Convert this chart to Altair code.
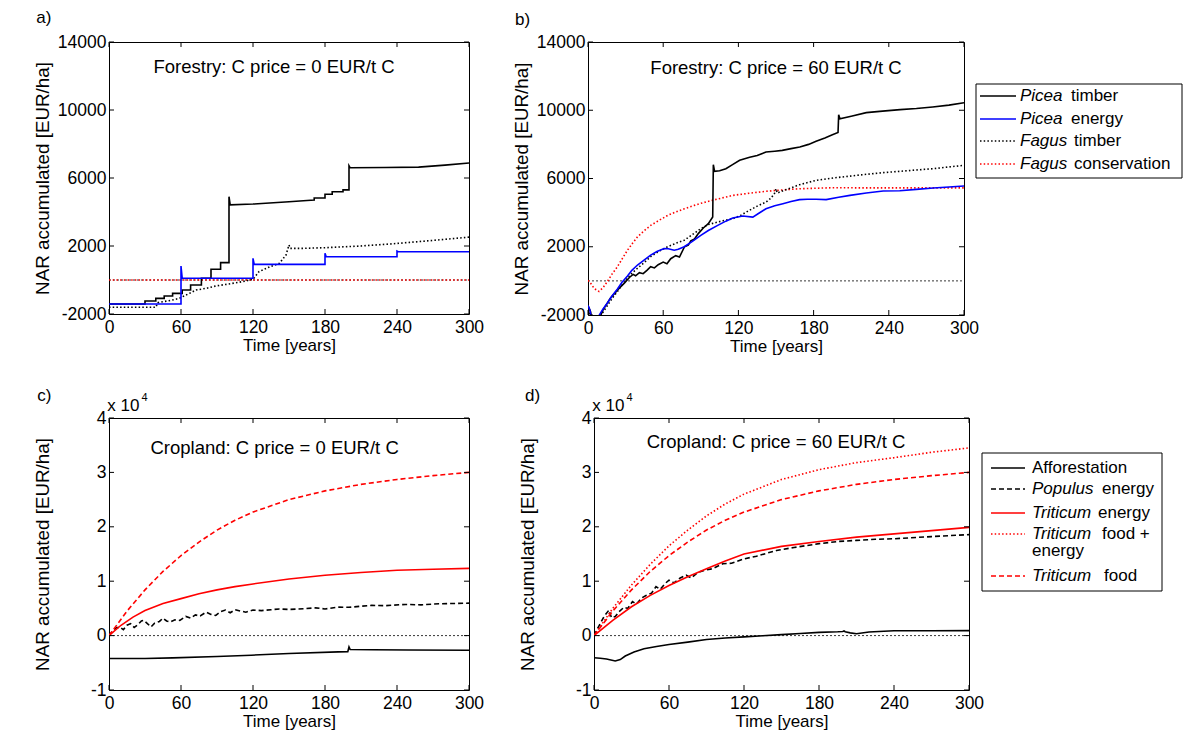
import altair as alt
import pandas as pd

FONT = "Liberation Sans"

# ---------------- data ----------------
X_TICKS = [0, 60, 120, 180, 240, 300]
Y_TICKS_FOREST = [-2000, 2000, 6000, 10000, 14000]
Y_TICKS_CROP = [-10000, 0, 10000, 20000, 30000, 40000]

# a) Forestry, C price = 0   (time [years], NAR [EUR/ha])
A_PICEA_TIMBER = [(0, -1410), (30, -1410), (30, -1235), (39, -1235), (39, -1080), (46, -1080),
                  (46, -940), (53, -940), (53, -785), (61, -785), (61, -590), (68, -590),
                  (68, -295), (77, -295), (77, 100), (85, 100), (85, 630), (93, 630),
                  (93, 1020), (100, 1020), (100, 4900), (101, 4420), (120, 4470), (150, 4600),
                  (165, 4680), (171, 4700), (171, 4820), (180, 4820), (180, 5040), (186, 5040),
                  (186, 5190), (195, 5190), (195, 5300), (200, 5300), (200, 6720), (201, 6600),
                  (230, 6620), (258, 6640), (280, 6760), (300, 6880)]
A_PICEA_ENERGY = [(0, -1410), (60, -1410), (60, 820), (61, 100), (120, 100), (120, 1275),
                  (121, 920), (180, 920), (180, 1570), (181, 1370), (240, 1370), (240, 1700),
                  (241, 1660), (300, 1660)]
A_FAGUS_TIMBER = [(0, -1605), (39, -1605), (40.6, -1330), (50, -1220), (58.6, -1080), (67, -785),
                  (72.5, -590), (81, -490), (89, -350), (100, -235), (111, -100), (120, 40),
                  (125, 490), (134, 780), (142, 980), (147.5, 1470), (150, 2060), (151, 1860),
                  (161, 1860), (180, 1900), (210, 2000), (240, 2150), (270, 2330), (300, 2520)]
A_FAGUS_CONS = [(0, 0), (300, 0)]

# b) Forestry, C price = 60
B_PICEA_TIMBER = [(0, -1450), (2, -1800), (4, -2600), (8, -2400), (12, -1700), (18, -1000),
                  (24, -500), (29, -135), (33, 200), (36, 380), (38, 300), (41, 480), (44, 420),
                  (47, 620), (50, 835), (53, 760), (56, 950), (60, 1100), (63, 1000), (66, 1300),
                  (70, 1480), (73, 1400), (77, 2000), (80, 2100), (82, 2350), (85, 2450),
                  (88, 2770), (92, 3100), (96, 3350), (99.5, 3740), (100, 6810),
                  (101, 6420), (105, 6450), (110, 6575), (115, 6800), (121, 7065), (129, 7240),
                  (135, 7350), (142, 7550), (149, 7600), (155, 7650), (162, 7750), (169, 7845),
                  (176, 8000), (182, 8180), (189, 8380), (195, 8570), (199.5, 8700), (200, 9740),
                  (201, 9500), (210, 9650), (222, 9860), (235, 9950), (249, 10035), (262, 10100),
                  (275, 10190), (288, 10300), (300, 10440)]
B_PICEA_ENERGY = [(0, -1450), (1.5, -1700), (3, -2300), (5, -2700), (7, -2400), (9, -2000),
                  (12, -1650), (15.5, -1300), (19, -900), (23.5, -480), (27, -100), (31.5, 290),
                  (35, 620), (39.5, 930), (45, 1230), (50, 1510), (55, 1720), (60.8, 1900),
                  (64, 1880), (68.8, 1800), (72, 1850), (76.8, 2000), (83, 2300), (90, 2670),
                  (96, 2950), (103.5, 3250), (110, 3500), (115.5, 3680), (123.5, 3800),
                  (131.5, 3740), (136, 3950), (142, 4230), (149, 4400), (155.5, 4520),
                  (162, 4650), (168.8, 4760), (175, 4780), (182, 4780), (190, 4760), (200, 4900),
                  (209, 5010), (222, 5150), (235.5, 5270), (248.8, 5280), (262, 5360),
                  (275.5, 5440), (288, 5500), (300, 5560)]
B_FAGUS_TIMBER = [(0, -1650), (3, -2300), (6, -2500), (10.5, -2000), (15, -1500), (19, -1050),
                  (23.5, -620), (27, -250), (31.5, 160), (35, 450), (39.5, 740), (45, 1080),
                  (50, 1420), (57, 1750), (63.5, 2000), (70, 2200), (76.8, 2380), (83, 2700),
                  (90, 3060), (96, 3300), (103.5, 3450), (110, 3560), (115.5, 3640), (122, 3850),
                  (128.8, 4135), (135, 4380), (142, 4620), (146, 4850), (149, 5150), (150, 5400),
                  (151, 5150), (160, 5400), (168.8, 5640), (182, 5890), (195.5, 6030),
                  (209, 6140), (222, 6245), (235, 6340), (248.8, 6420), (262, 6500),
                  (275.5, 6575), (288, 6680), (300, 6770)]
B_FAGUS_CONS = [(0, 30), (2.1, -135), (5, -450), (8.8, -620), (12, -400), (15.5, -35), (19, 380),
                (23.5, 835), (27.5, 1320), (31.5, 1800), (35.5, 2200), (39.5, 2580), (45, 2950),
                (50, 3250), (57, 3560), (63.5, 3835), (70, 4040), (76.8, 4225), (88.8, 4520),
                (98, 4700), (115.5, 5010), (130, 5150), (142, 5250), (155, 5330), (168.8, 5400),
                (195.5, 5460), (220, 5450), (250, 5450), (275, 5450), (300, 5450)]

# c) Cropland, C price = 0
C_AFFOREST = [(0, -4200), (30, -4200), (53, -4100), (90, -3850), (118.6, -3600), (150, -3300),
              (191, -3000), (199, -2950), (200, -2090), (201, -2560), (220, -2600), (250, -2650),
              (300, -2680)]
C_POPULUS = [(0, 0), (3, 800), (6, 1400), (9, 1570), (12, 1100), (15, 1900), (18, 2200), (21, 1500),
             (24, 2000), (27, 2700), (29, 2800), (32, 2200), (35, 1600), (38, 2300), (42, 2600),
             (45, 3200), (48, 2700), (51, 2500), (55, 2900), (59, 2800), (64, 3530), (68, 3200),
             (72, 3800), (76, 3600), (81, 4320), (85, 3900), (89, 3700), (93, 4400), (97, 4700),
             (101, 4200), (105, 4750), (110, 4500), (114, 4300), (120, 4700), (127, 4600),
             (135, 4750), (142, 4900), (150, 4800), (163, 4940), (172, 5100), (180, 4900),
             (191, 5240), (200, 5200), (210, 5400), (219, 5550), (230, 5500), (247, 5730),
             (260, 5650), (275, 5860), (288, 5900), (300, 5970)]
C_TRITICUM_ENERGY = [(0, 0), (10, 1900), (20, 3400), (30, 4600), (45, 5900), (60, 6800), (75, 7700),
                     (90, 8400), (105, 9000), (120, 9500), (150, 10400), (180, 11100), (210, 11600),
                     (240, 12000), (270, 12200), (300, 12350)]
TRITICUM_FOOD = [(0, 0), (15, 4500), (30, 8400), (45, 11800), (60, 14700), (75, 17200), (90, 19400),
                 (105, 21200), (120, 22700), (150, 25000), (180, 26600), (210, 27800), (240, 28700),
                 (270, 29400), (300, 30000)]

# d) Cropland, C price = 60
D_AFFOREST = [(0, -4060), (5, -4150), (10, -4300), (17, -4670), (21, -4400), (25, -3760), (32, -3000),
              (40, -2430), (50, -2000), (60, -1640), (75, -1200), (90, -730), (105, -450), (120, -240),
              (135, -20), (150, 180), (165, 380), (180, 600), (195, 700), (199, 750), (200, 850),
              (201, 700), (205, 500), (210, 350), (220, 650), (240, 900), (270, 900), (300, 920)]
D_POPULUS = [(0, 0), (4, 1800), (8, 3500), (12, 4700), (14, 3300), (17, 3500), (20, 4400), (24, 5200),
             (27, 5000), (30.8, 6250), (34, 5800), (38, 6900), (42, 7400), (46, 7800), (49.6, 9000),
             (53, 8500), (57, 9600), (60, 10200), (64, 9700), (69, 10600), (73.7, 11100), (78, 10600),
             (83, 11600), (89.8, 12100), (95, 12300), (103, 13200), (110, 13300), (120, 14100),
             (130, 14600), (146, 15650), (160, 16200), (180, 16900), (195, 17300), (210, 17500),
             (225, 17700), (240, 17800), (270, 18200), (300, 18560)]
D_TRITICUM_ENERGY = [(0, 0), (15, 2800), (30, 5300), (45, 7400), (60, 9200), (75, 10800), (90, 12300),
                     (105, 13700), (120, 15000), (150, 16400), (180, 17300), (210, 18100), (240, 18700),
                     (270, 19300), (300, 19900)]
D_TRITICUM_FOOD_ENERGY = [(0, 0), (15, 5000), (30, 9300), (45, 13100), (60, 16500), (75, 19400),
                          (90, 22000), (105, 24200), (120, 26000), (150, 28700), (180, 30500),
                          (210, 31800), (240, 32700), (270, 33700), (300, 34500)]

# ---------------- styles ----------------
BLACK, BLUE, RED = "#000000", "#0000ff", "#ff0000"
SOLID, DOTTED, DASHED = None, [1.5, 2.2], [5, 3]
LW = 1.6
TICK_FS, XTITLE_FS, YTITLE_FS = 17.5, 17, 18.8


def df_of(points):
    return pd.DataFrame({"t": [p[0] for p in points], "v": [p[1] for p in points],
                         "i": list(range(len(points)))})


def make_panel(label, note, note_xy, ydomain, yticks, crop, W, H, series, legend):
    xs = alt.Scale(domain=[0, 300], nice=False, zero=False)
    ys = alt.Scale(domain=ydomain, nice=False, zero=False)
    label_expr = "'' + (datum.value / 10000)" if crop else "'' + datum.value"
    x_axis = alt.Axis(values=X_TICKS, title="Time [years]", grid=False, domain=False, ticks=False,
                      tickSize=0, labelPadding=4, titlePadding=2, labelFontSize=TICK_FS,
                      titleFontSize=XTITLE_FS, labelFont=FONT, titleFont=FONT,
                      titleFontWeight="normal", labelColor="black", titleColor="black",
                      labelFlush=False, labelOverlap=False)
    y_axis = alt.Axis(values=yticks, title="NAR accumulated [EUR/ha]", grid=False, domain=False,
                      ticks=False, tickSize=0, labelPadding=3, titlePadding=5,
                      labelFontSize=TICK_FS, titleFontSize=YTITLE_FS, labelFont=FONT,
                      titleFont=FONT, titleFontWeight="normal", labelColor="black",
                      titleColor="black", minExtent=52, maxExtent=52,
                      labelExpr=label_expr, labelOverlap=False)

    X = alt.X("t:Q", scale=xs, axis=x_axis, title="Time [years]")
    Y = alt.Y("v:Q", scale=ys, axis=y_axis, title="NAR accumulated [EUR/ha]")

    layers = []
    # zero reference line
    zero = alt.Chart(pd.DataFrame({"t": [0, 300], "v": [0, 0]})).mark_line(
        color=BLACK, strokeWidth=0.8, strokeDash=[2, 2]).encode(x=X, y=Y)
    layers.append(zero)

    for pts, color, dash in series:
        kw = dict(color=color, strokeWidth=LW, clip=True)
        if dash:
            kw["strokeDash"] = dash
        layers.append(alt.Chart(df_of(pts)).mark_line(**kw).encode(x=X, y=Y, order="i:Q"))

    # inward ticks on all four sides
    xdf = pd.DataFrame({"t": X_TICKS})
    ydf = pd.DataFrame({"v": yticks})
    for y0, y1 in [(H, H - 5), (0, 5)]:
        layers.append(alt.Chart(xdf).mark_rule(color=BLACK, strokeWidth=1).encode(
            x=X, y=alt.value(y0), y2=alt.value(y1)))
    for x0, x1 in [(0, 5), (W, W - 5)]:
        layers.append(alt.Chart(ydf).mark_rule(color=BLACK, strokeWidth=1).encode(
            y=Y, x=alt.value(x0), x2=alt.value(x1)))

    one = pd.DataFrame({"k": [0]})
    # annotation inside the panel
    layers.append(alt.Chart(one).mark_text(text=note, font=FONT, fontSize=18.5, color=BLACK,
                                           align="center", baseline="middle").encode(
        x=alt.datum(note_xy[0]), y=alt.datum(note_xy[1])))
    # panel letter
    layers.append(alt.Chart(one).mark_text(text=label[0], font=FONT, fontSize=17, color=BLACK,
                                           align="left", baseline="alphabetic").encode(
        x=alt.value(label[1]), y=alt.value(label[2])))
    if crop:
        layers.append(alt.Chart(one).mark_text(text="x 10", font=FONT, fontSize=17, color=BLACK,
                                               align="left", baseline="alphabetic").encode(
            x=alt.value(-1.7), y=alt.value(-7)))
        layers.append(alt.Chart(one).mark_text(text="4", font=FONT, fontSize=11, color=BLACK,
                                               align="left", baseline="alphabetic").encode(
            x=alt.value(32.5), y=alt.value(-17)))
    if legend:
        box, entries = legend
        layers.append(alt.Chart(one).mark_rect(fill="white", stroke=BLACK, strokeWidth=1).encode(
            x=alt.value(box[0]), x2=alt.value(box[1]), y=alt.value(box[2]), y2=alt.value(box[3])))
        for (ital, rest, rest_dx, ypos, color, dash, lx0, lx1, tx) in entries:
            if color is not None:
                kw = dict(color=color, strokeWidth=LW)
                if dash:
                    kw["strokeDash"] = dash
                layers.append(alt.Chart(one).mark_rule(**kw).encode(
                    x=alt.value(lx0), x2=alt.value(lx1), y=alt.value(ypos)))
            if ital:
                layers.append(alt.Chart(one).mark_text(
                    text=ital, font=FONT, fontSize=17, fontStyle="italic", color=BLACK,
                    align="left", baseline="middle").encode(x=alt.value(tx), y=alt.value(ypos)))
            if rest:
                layers.append(alt.Chart(one).mark_text(
                    text=rest, font=FONT, fontSize=17, color=BLACK,
                    align="left", baseline="middle").encode(x=alt.value(tx + rest_dx), y=alt.value(ypos)))

    return alt.layer(*layers).properties(width=W, height=H)


legend_top = ((388, 594, 42, 136), [
    ("Picea", "timber", 51, 54, BLACK, SOLID, 392, 428, 432),
    ("Picea", "energy", 51, 77, BLUE, SOLID, 392, 428, 432),
    ("Fagus", "timber", 54, 99, BLACK, DOTTED, 392, 428, 432),
    ("Fagus", "conservation", 54, 122, RED, DOTTED, 392, 428, 432),
])
legend_bottom = ((388, 568, 35, 173), [
    ("", "Afforestation", 0, 50, BLACK, SOLID, 397, 431, 438),
    ("Populus", "energy", 70, 71, BLACK, DASHED, 397, 431, 438),
    ("Triticum", "energy", 66, 95, RED, SOLID, 397, 431, 438),
    ("Triticum", "food +", 70, 116, RED, DOTTED, 397, 431, 438),
    ("", "energy", 0, 133, None, None, 0, 0, 438),
    ("Triticum", "food", 72, 158, RED, DASHED, 397, 431, 438),
])

pa = make_panel(("a)", -72.7, -19), "Forestry: C price = 0 EUR/t C", (137.5, 12530),
                [-2000, 14000], Y_TICKS_FOREST, False, 360, 272,
                [(A_FAGUS_CONS, RED, DOTTED), (A_FAGUS_TIMBER, BLACK, DOTTED),
                 (A_PICEA_TIMBER, BLACK, SOLID), (A_PICEA_ENERGY, BLUE, SOLID)], None)
pb = make_panel(("b)", -73, -17.5), "Forestry: C price = 60 EUR/t C", (150, 12500),
                [-2000, 14000], Y_TICKS_FOREST, False, 376, 273,
                [(B_FAGUS_CONS, RED, DOTTED), (B_FAGUS_TIMBER, BLACK, DOTTED),
                 (B_PICEA_TIMBER, BLACK, SOLID), (B_PICEA_ENERGY, BLUE, SOLID)], legend_top)
pc = make_panel(("c)", -71.7, -17), "Cropland: C price = 0 EUR/t C", (138, 34500),
                [-10000, 40000], Y_TICKS_CROP, True, 360, 272,
                [(C_AFFOREST, BLACK, SOLID), (C_POPULUS, BLACK, DASHED),
                 (C_TRITICUM_ENERGY, RED, SOLID), (TRITICUM_FOOD, RED, DASHED)], None)
pd_ = make_panel(("d)", -69, -17), "Cropland: C price = 60 EUR/t C", (145.6, 35600),
                 [-10000, 40000], Y_TICKS_CROP, True, 375, 272,
                 [(D_AFFOREST, BLACK, SOLID), (D_POPULUS, BLACK, DASHED),
                  (D_TRITICUM_ENERGY, RED, SOLID), (D_TRITICUM_FOOD_ENERGY, RED, DOTTED),
                  (TRITICUM_FOOD, RED, DASHED)], legend_bottom)

chart = alt.vconcat(
    alt.hconcat(pa, pb, spacing=26),
    alt.hconcat(pc, pd_, spacing=32),
    spacing=31,
).properties(
    padding={"left": 24, "top": 0, "right": 5, "bottom": 5},
    background="white",
).configure_view(stroke=BLACK, strokeWidth=1)

chart.save("out.html", embed_options={"renderer": "svg", "actions": False})
